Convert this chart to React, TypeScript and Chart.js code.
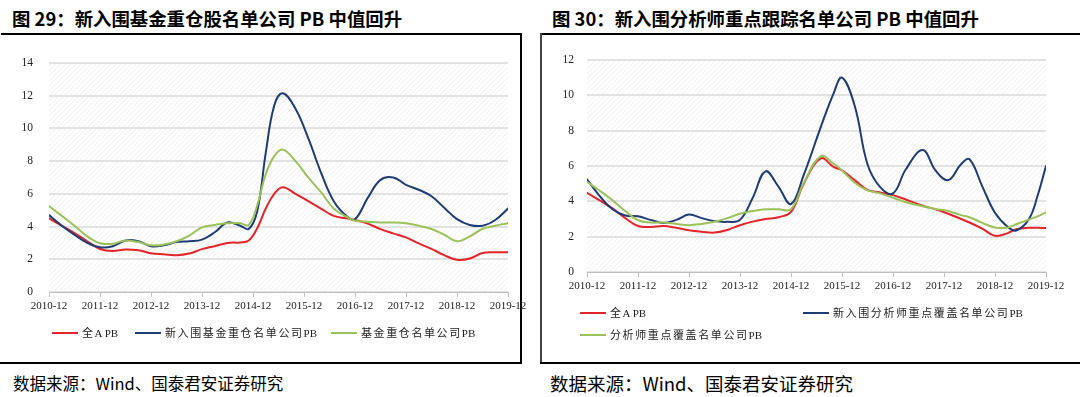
import React, { useEffect, useRef } from 'react';
import { Chart, registerables } from 'chart.js';

Chart.register(...registerables);

// ---------- text ----------
const title1 = '图 29：新入围基金重仓股名单公司 PB 中值回升';
const title2 = '图 30：新入围分析师重点跟踪名单公司 PB 中值回升';
const sourceText = '数据来源：Wind、国泰君安证券研究';
const yearTicks = ['2010-12', '2011-12', '2012-12', '2013-12', '2014-12', '2015-12', '2016-12', '2017-12', '2018-12', '2019-12'];

// ---------- chart 1 data ----------
const labels1 = ['全A PB', '新入围基金重仓名单公司PB', '基金重仓名单公司PB'];
const dates1 = [
  '2010-12', '2011-03', '2011-06', '2011-09', '2011-12', '2012-03', '2012-06', '2012-09', '2012-12',
  '2013-03', '2013-06', '2013-09', '2013-12', '2014-03', '2014-06', '2014-09', '2014-11', '2015-01',
  '2015-03', '2015-05', '2015-07', '2015-10', '2016-01', '2016-04', '2016-07', '2016-10', '2016-12',
  '2017-03', '2017-06', '2017-09', '2017-12', '2018-03', '2018-06', '2018-09', '2018-12', '2019-03',
  '2019-06', '2019-09', '2019-12',
];
const allA1 = [
  4.5, 4.05, 3.6, 3.1, 2.63, 2.5, 2.6, 2.55, 2.37,
  2.3, 2.25, 2.35, 2.62, 2.8, 3.0, 3.03, 3.15, 3.9,
  5.1, 6.0, 6.4, 6.0, 5.55, 5.1, 4.65, 4.5, 4.4,
  4.18, 3.84, 3.58, 3.34, 2.97, 2.63, 2.25, 1.97, 2.05,
  2.38, 2.43, 2.43,
];
const newFund1 = [
  4.7, 4.05, 3.5, 3.0, 2.74, 2.8, 3.15, 3.1, 2.8,
  2.85, 3.05, 3.1, 3.2, 3.65, 4.25, 4.05, 3.85, 4.95,
  8.5, 11.4, 12.15, 11.2, 9.4, 7.3, 5.55, 4.65, 4.45,
  5.75, 6.85, 7.0, 6.55, 6.25, 5.85, 5.15, 4.45, 4.1,
  4.05, 4.4, 5.1,
];
const fund1 = [
  5.25, 4.65, 4.05, 3.4, 2.98, 2.95, 3.15, 3.05, 2.85,
  2.9, 3.1, 3.45, 3.95, 4.1, 4.2, 4.2, 4.1, 5.3,
  7.2, 8.3, 8.7, 8.0, 7.0, 6.1, 5.1, 4.6, 4.35,
  4.3, 4.25, 4.25, 4.2, 4.05, 3.85, 3.5, 3.1, 3.4,
  3.85, 4.05, 4.2,
];

// ---------- chart 2 data ----------
const labels2 = ['全A PB', '新入围分析师重点覆盖名单公司PB', '分析师重点覆盖名单公司PB'];
const dates2 = [
  '2010-12', '2011-03', '2011-06', '2011-09', '2011-12', '2012-03', '2012-06', '2012-09', '2012-12',
  '2013-03', '2013-06', '2013-09', '2013-12', '2014-03', '2014-06', '2014-09', '2014-12', '2015-03',
  '2015-07', '2015-10', '2015-12', '2016-03', '2016-06', '2016-09', '2016-12', '2017-03', '2017-07',
  '2017-10', '2018-01', '2018-04', '2018-06', '2018-09', '2018-12', '2019-03', '2019-05', '2019-08',
  '2019-10', '2019-12',
];
const allA2 = [
  4.48, 4.05, 3.6, 3.05, 2.6, 2.55, 2.6, 2.5, 2.36,
  2.28, 2.23, 2.38, 2.65, 2.85, 3.0, 3.1, 3.4, 5.0,
  6.43, 5.95, 5.75, 5.2, 4.65, 4.5, 4.35, 4.1, 3.75,
  3.55, 3.3, 3.0, 2.8, 2.45, 2.05, 2.2, 2.42, 2.5,
  2.5, 2.49,
];
const newAnalyst2 = [
  5.24, 4.3, 3.55, 3.2, 3.15, 2.95, 2.78, 2.95, 3.25,
  3.05, 2.88, 2.84, 2.95, 4.2, 5.7, 4.85, 3.85, 5.5,
  8.2, 10.1, 11.0, 9.4, 6.1, 4.8, 4.45, 5.8, 6.9,
  5.75, 5.2, 6.1, 6.38, 4.85, 3.35, 2.55, 2.35, 3.0,
  4.3, 6.0,
];
const analyst2 = [
  5.1, 4.6, 4.06, 3.45, 2.93, 2.8, 2.8, 2.72, 2.65,
  2.72, 2.84, 3.05, 3.3, 3.45, 3.55, 3.55, 3.55, 5.05,
  6.55, 6.14, 5.75, 5.05, 4.62, 4.45, 4.2, 3.95, 3.72,
  3.57, 3.45, 3.22, 3.1, 2.78, 2.52, 2.52, 2.7, 2.97,
  3.15, 3.38,
];

const colors = ['#e3242b', '#1f3c74', '#9bc25a'];

const toMonth = (s: string) => {
  const [y, m] = s.split('-').map(Number);
  return (y - 2010) * 12 + (m - 12);
};

const hatchPlugin = {
  id: 'hatch',
  beforeDraw(chart: any) {
    const { ctx, chartArea: a } = chart;
    const size = 5;
    const tile = document.createElement('canvas');
    tile.width = size;
    tile.height = size;
    const t = tile.getContext('2d')!;
    t.strokeStyle = '#f0f0f0';
    t.lineWidth = 1;
    t.beginPath();
    t.moveTo(0, size);
    t.lineTo(size, 0);
    t.moveTo(-1, 1);
    t.lineTo(1, -1);
    t.moveTo(size - 1, size + 1);
    t.lineTo(size + 1, size - 1);
    t.stroke();
    const pat = ctx.createPattern(tile, 'repeat');
    ctx.save();
    ctx.fillStyle = pat;
    ctx.fillRect(a.left, a.top, a.right - a.left, a.bottom - a.top);
    ctx.restore();
  },
};

type Geom = {
  left: number; top: number; w: number; h: number;
  padTop: number; padRight: number; yAxisW: number; xAxisH: number; yLabelPad: number;
};

const tickFont = { family: "'Liberation Serif', 'Times New Roman', serif", size: 11 };
const yTickFont = { family: "'Liberation Serif', 'Times New Roman', serif", size: 11.5 };

function LineChart({ dates, series, labels, yMax, geom }: { dates: string[]; series: number[][]; labels: string[]; yMax: number; geom: Geom }) {
  const ref = useRef<HTMLCanvasElement>(null);
  useEffect(() => {
    const months = dates.map(toMonth);
    const chart = new Chart(ref.current!, {
      type: 'line',
      data: {
        datasets: series.map((vals, i) => ({
          label: labels[i],
          data: vals.map((v, j) => ({ x: months[j], y: v })),
          borderColor: colors[i],
          backgroundColor: colors[i],
          borderWidth: 2,
          pointRadius: 0,
          tension: 0.4,
          fill: false,
          order: 2 - i,
          borderCapStyle: 'round',
          borderJoinStyle: 'round',
        })),
      } as any,
      options: {
        animation: false,
        responsive: false,
        devicePixelRatio: 1,
        events: [],
        layout: { padding: { top: geom.padTop, right: geom.padRight, left: 0, bottom: 0 } },
        plugins: { legend: { display: false }, tooltip: { enabled: false } },
        scales: {
          x: {
            type: 'linear',
            min: 0,
            max: 108,
            ticks: {
              stepSize: 12,
              autoSkip: false,
              maxRotation: 0,
              padding: 3,
              color: '#222',
              font: tickFont,
              callback: (v: any) => yearTicks[Math.round(Number(v) / 12)] ?? '',
            },
            grid: { drawOnChartArea: false, drawTicks: true, tickLength: 5, color: '#bfbfbf', lineWidth: 1 },
            border: { display: true, color: '#bfbfbf', width: 1 },
            afterFit: (s: any) => { s.height = geom.xAxisH; },
          },
          y: {
            min: 0,
            max: yMax,
            ticks: { stepSize: 2, padding: geom.yLabelPad, color: '#222', font: yTickFont },
            grid: { color: '#e2e2e2', lineWidth: 2, drawTicks: false },
            border: { display: false },
            afterFit: (s: any) => { s.width = geom.yAxisW; },
          },
        },
      } as any,
      plugins: [hatchPlugin],
    });
    return () => chart.destroy();
  }, []);
  return (
    <canvas
      ref={ref}
      width={geom.w}
      height={geom.h}
      style={{ position: 'absolute', left: geom.left, top: geom.top, width: geom.w, height: geom.h }}
    />
  );
}

const legendFont = "'Liberation Serif', 'Noto Sans CJK SC', serif";

// split a label into CJK runs (letter-spaced like the original) and Latin runs
function renderLabel(label: string) {
  const parts = label.match(/[\u3000-\u9fff\uff00-\uffef]+|[^\u3000-\u9fff\uff00-\uffef]+/g) || [label];
  return parts.map((p, i) =>
    /[\u3000-\u9fff\uff00-\uffef]/.test(p) ? (
      <span key={i} style={{ letterSpacing: '1.6px' }}>{p}</span>
    ) : (
      <span key={i}>{p}</span>
    ),
  );
}

function Legend({ items }: { items: { label: string; color: string; x: number; y: number }[] }) {
  return (
    <>
      {items.map((it, i) => (
        <React.Fragment key={i}>
          <div style={{ position: 'absolute', left: it.x, top: it.y - 1, width: 26, height: 2, background: it.color }} />
          <div
            style={{
              position: 'absolute', left: it.x + 30, top: it.y - 8, height: 16, lineHeight: '16px',
              fontFamily: legendFont, fontSize: 11, color: '#222', whiteSpace: 'nowrap',
            }}
          >
            {renderLabel(it.label)}
          </div>
        </React.Fragment>
      ))}
    </>
  );
}

const titleStyle: React.CSSProperties = {
  position: 'absolute', top: 8, height: 20, lineHeight: '20px', fontSize: 18.4, fontWeight: 700,
  fontFamily: "'Noto Sans CJK SC', sans-serif", color: '#000', whiteSpace: 'nowrap',
};

const sourceStyle: React.CSSProperties = {
  position: 'absolute', fontFamily: "'Noto Sans CJK SC', sans-serif", color: '#000', whiteSpace: 'nowrap',
};

export default function App() {
  const geom1: Geom = { left: 0, top: 40, w: 530, h: 290, padTop: 20, padRight: 22, yAxisW: 49, xAxisH: 38, yLabelPad: 16 };
  const geom2: Geom = { left: 541, top: 40, w: 539, h: 270, padTop: 20, padRight: 34, yAxisW: 46, xAxisH: 38, yLabelPad: 13 };
  return (
    <div style={{ position: 'fixed', left: 0, top: 0, width: 1080, height: 397, background: '#fff', overflow: 'hidden' }}>
      <div style={{ ...titleStyle, left: 12 }}>{title1}</div>
      <div style={{ ...titleStyle, left: 552 }}>{title2}</div>

      {/* panel frames */}
      <div style={{ position: 'absolute', left: 1, top: 33, width: 521, height: 2, background: '#000' }} />
      <div style={{ position: 'absolute', left: 520, top: 33, width: 2, height: 331, background: '#000' }} />
      <div style={{ position: 'absolute', left: 0, top: 362, width: 522, height: 2, background: '#000' }} />
      <div style={{ position: 'absolute', left: 540, top: 33, width: 540, height: 2, background: '#000' }} />
      <div style={{ position: 'absolute', left: 540, top: 33, width: 1.5, height: 331, background: '#444' }} />
      <div style={{ position: 'absolute', left: 540, top: 362, width: 540, height: 2, background: '#000' }} />

      <LineChart dates={dates1} series={[allA1, newFund1, fund1]} labels={labels1} yMax={14} geom={geom1} />
      <LineChart dates={dates2} series={[allA2, newAnalyst2, analyst2]} labels={labels2} yMax={12} geom={geom2} />

      <Legend
        items={[
          { label: labels1[0], color: colors[0], x: 52, y: 333 },
          { label: labels1[1], color: colors[1], x: 135, y: 333 },
          { label: labels1[2], color: colors[2], x: 331, y: 333 },
        ]}
      />
      <Legend
        items={[
          { label: labels2[0], color: colors[0], x: 580, y: 313 },
          { label: labels2[1], color: colors[1], x: 803, y: 313 },
          { label: labels2[2], color: colors[2], x: 580, y: 335 },
        ]}
      />

      <div style={{ ...sourceStyle, left: 13, top: 373, fontSize: 16.5, lineHeight: '20px' }}>{sourceText}</div>
      <div style={{ ...sourceStyle, left: 550, top: 372, fontSize: 18.5, lineHeight: '22px' }}>{sourceText}</div>
    </div>
  );
}
